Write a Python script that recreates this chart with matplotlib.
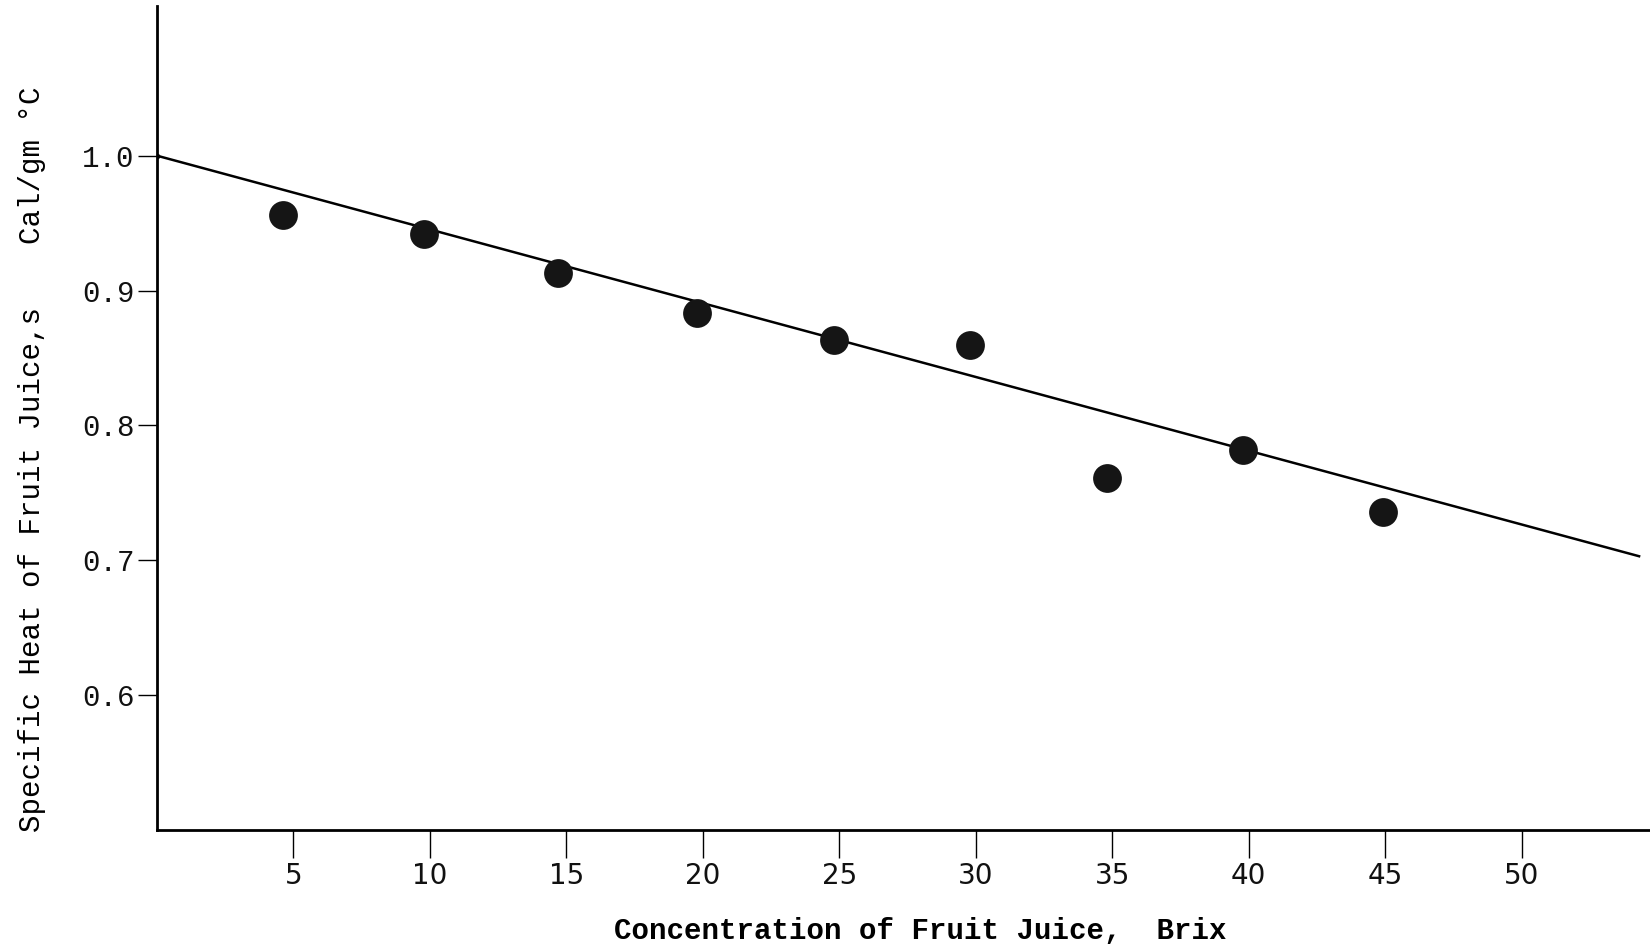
import matplotlib
matplotlib.use("Agg")
import matplotlib.pyplot as plt
import numpy as np

# Data
brix = [4.6, 9.8, 14.7, 19.8, 24.8, 29.8, 34.8, 39.8, 44.9]
specific_heat = [0.956, 0.942, 0.913, 0.883, 0.863, 0.860, 0.761, 0.782, 0.736]
fit_x = [0.0, 54.3]
fit_y = [1.0, 0.703]
xticks = [5, 10, 15, 20, 25, 30, 35, 40, 45, 50]
yticks = [0.6, 0.7, 0.8, 0.9, 1.0]
ytick_labels = ["0.6", "0.7", "0.8", "0.9", "1.0"]

mono = "Liberation Mono"

fig = plt.figure(figsize=(16.5, 9.5), dpi=100)
ax = fig.add_axes([157/1650, 120/950, 1493/1650, 824/950])

ax.plot(fit_x, fit_y, color="black", lw=1.8, zorder=2)
ax.plot([0], [1.0], 'o', color='black', ms=3, zorder=3)
ax.scatter(brix, specific_heat, s=430, color="#151515", zorder=4, linewidths=0)

ax.set_xlim(0, 54.7)
ax.set_ylim(0.5, 1.111)

for s in ["top", "right"]:
    ax.spines[s].set_visible(False)
for s in ["left", "bottom"]:
    ax.spines[s].set_linewidth(2.0)
    ax.spines[s].set_color("black")

ax.set_xticks(xticks)
ax.set_xticklabels([str(t) for t in xticks], fontsize=20, family="DejaVu Sans", color="#111111")
ax.tick_params(axis="x", direction="out", length=20, width=1.0, pad=3)

ax.set_yticks(yticks)
ax.set_yticklabels(ytick_labels, fontsize=21, family=mono, color="#111111",
                   va="center_baseline")
ax.tick_params(axis="y", direction="out", length=14, width=1.0, pad=2)

fig.text(920/1650, 1 - 931/950, "Concentration of Fruit Juice,  Brix",
         ha="center", va="center", fontsize=21, family=mono, fontweight="bold")
fig.text(32/1650, 1 - 570/950, "Specific Heat of Fruit Juice,s",
         ha="center", va="center", rotation=90, fontsize=21, family=mono)
fig.text(32/1650, 1 - 165/950, "Cal/gm °C",
         ha="center", va="center", rotation=90, fontsize=21, family=mono)

fig.savefig("out.png", dpi=100, facecolor="white")
